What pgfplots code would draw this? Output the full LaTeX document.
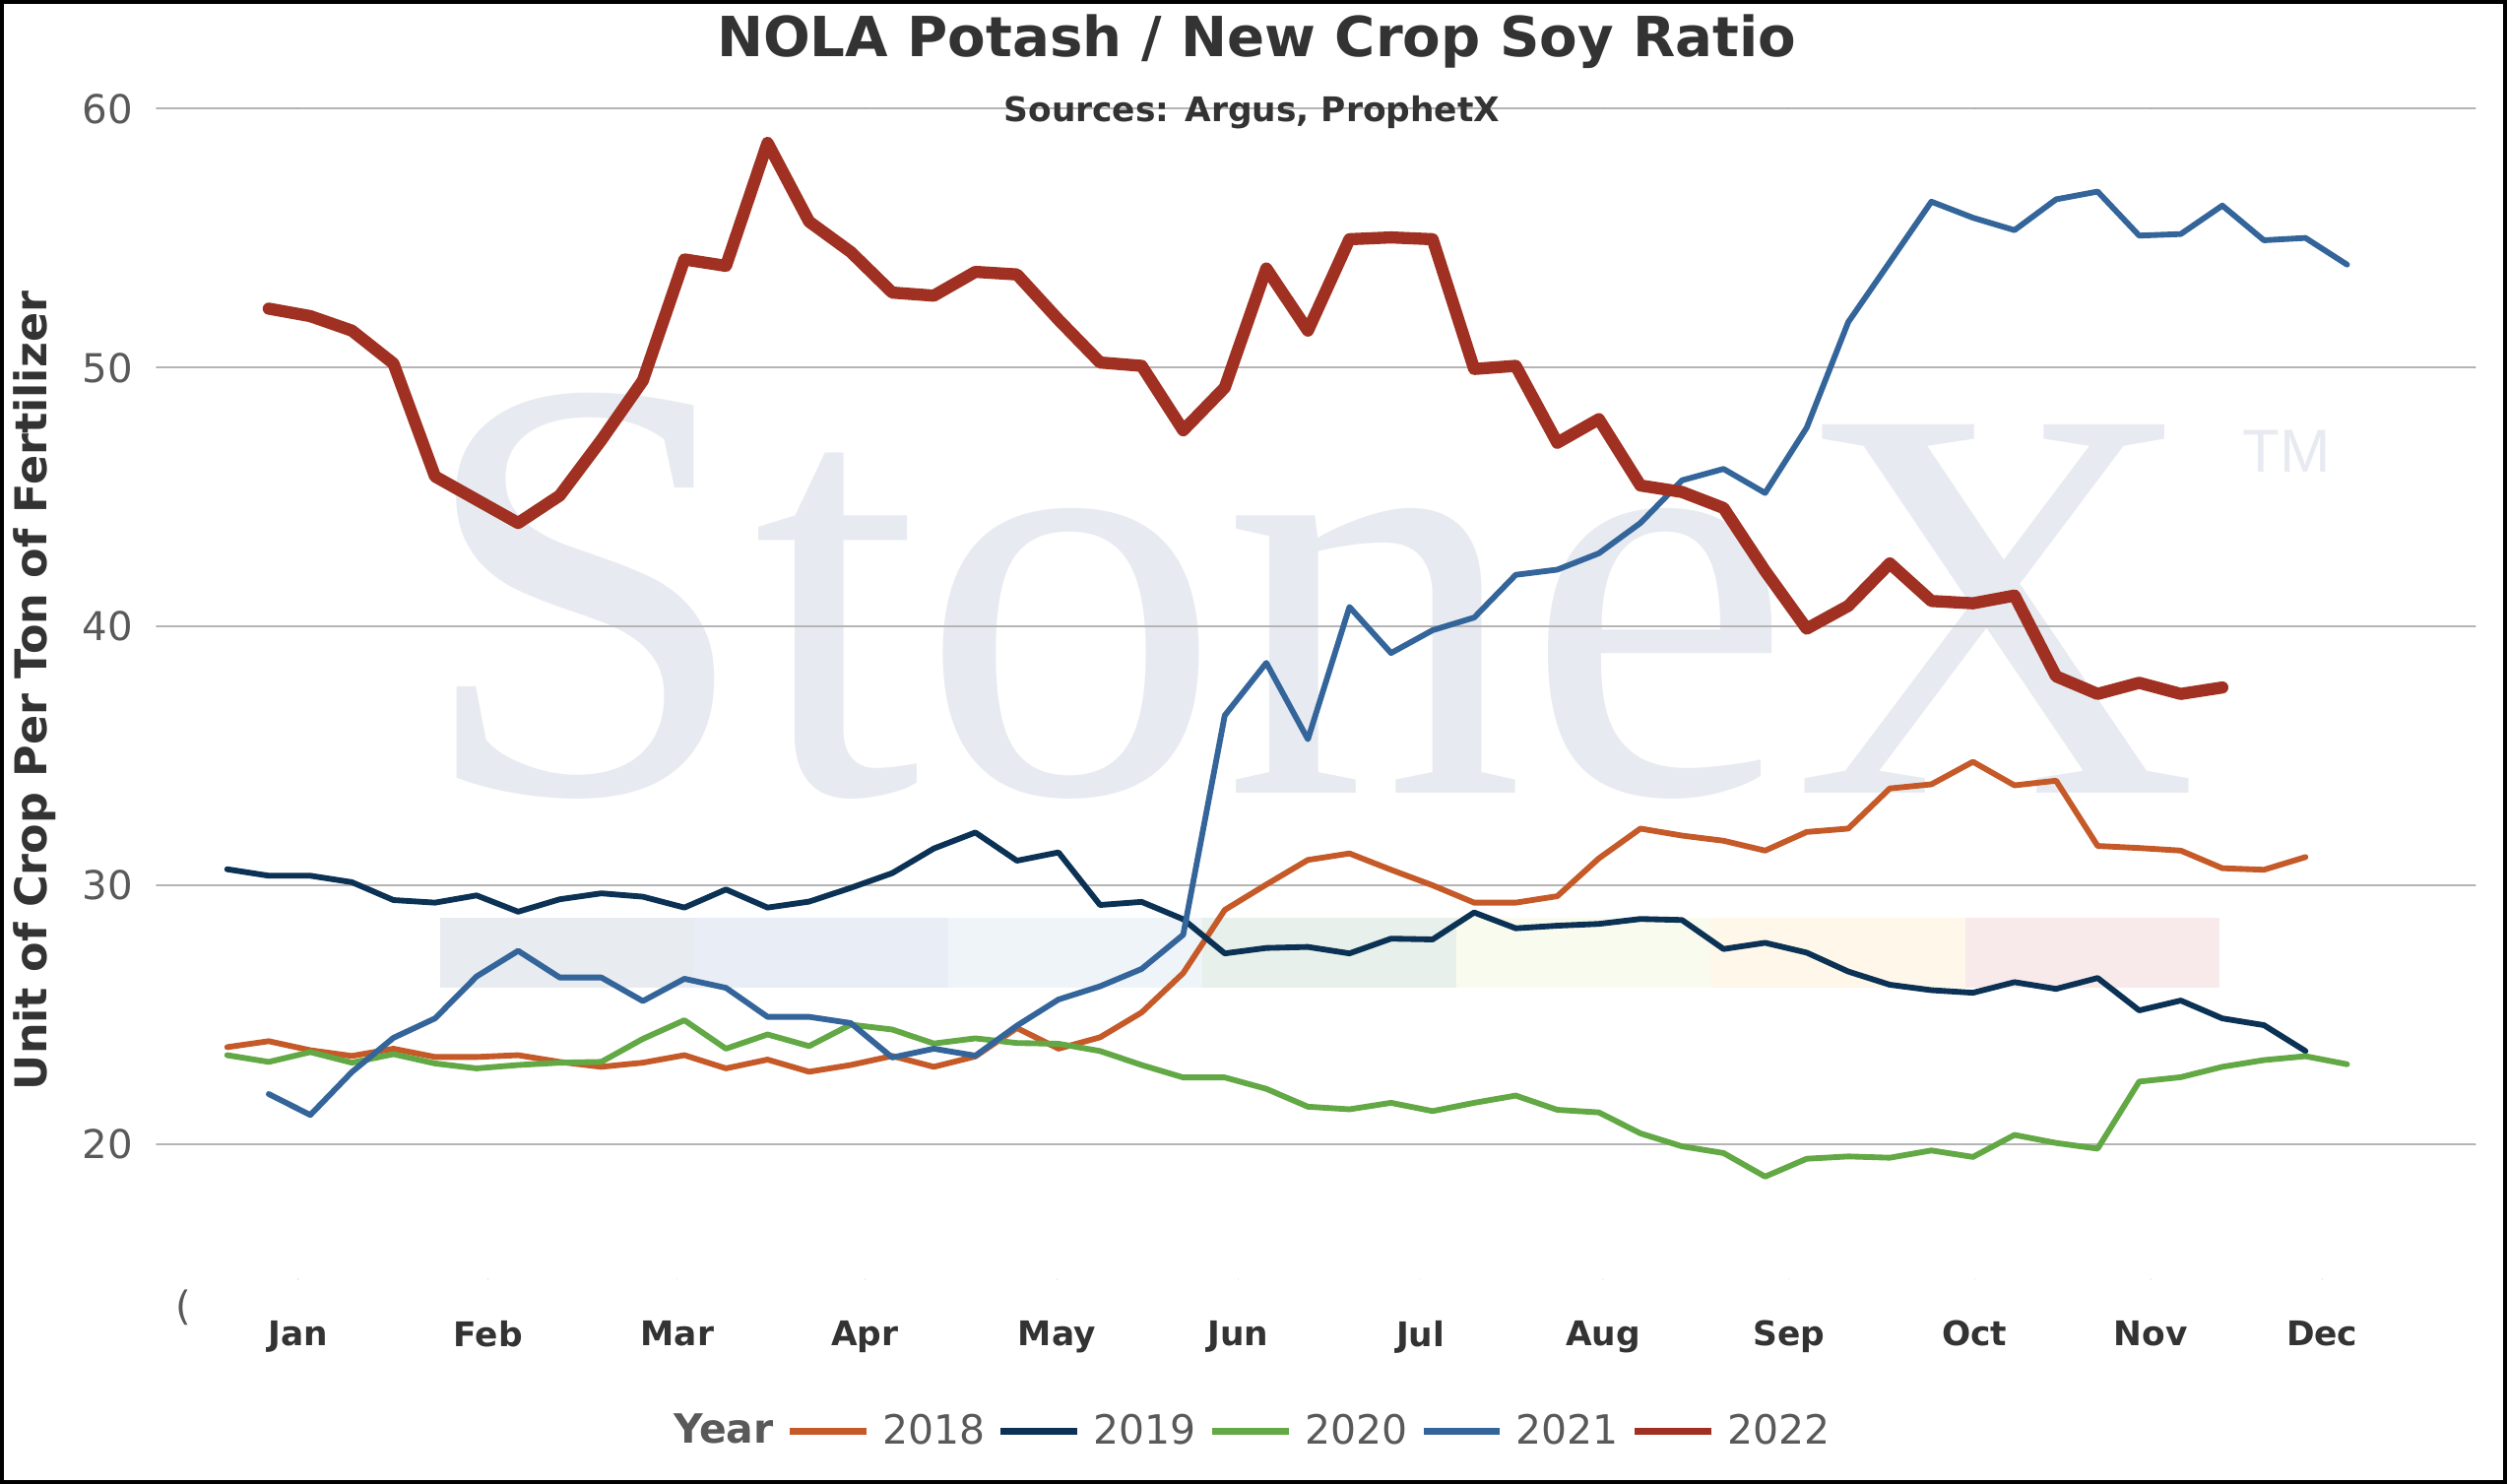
\documentclass[border=0pt]{standalone}
\usepackage{pgfplots}
\pgfplotsset{compat=1.18}
\usepackage{fontspec}
\setmainfont{DejaVu Sans}
\newfontfamily\wmfont{Liberation Serif}
\newfontfamily\tmfont{Liberation Sans}
\definecolor{c2018}{HTML}{C55A28}
\definecolor{c2019}{HTML}{0B3254}
\definecolor{c2020}{HTML}{62A844}
\definecolor{c2021}{HTML}{34659A}
\definecolor{c2022}{HTML}{A03122}
\definecolor{gridc}{HTML}{B5B5B5}
\definecolor{titlec}{HTML}{333333}
\definecolor{graytext}{HTML}{595959}
\definecolor{wmc}{HTML}{E7EBF1}
\definecolor{b1}{HTML}{E8EBF0}
\definecolor{b2}{HTML}{E9EEF6}
\definecolor{b3}{HTML}{EFF4F9}
\definecolor{b4}{HTML}{E7F0EA}
\definecolor{b5}{HTML}{FAFBEF}
\definecolor{b6}{HTML}{FEF7EA}
\definecolor{b7}{HTML}{F8EAEB}
\begin{document}
\begin{tikzpicture}
\useasboundingbox (0,0) rectangle (784pt,464pt);
\fill[white] (0,0) rectangle (784pt,464pt);
% watermark
\fill[b1] (137.5pt,155pt) rectangle (217pt,177pt);
\fill[b2] (217pt,155pt) rectangle (296.5pt,177pt);
\fill[b3] (296.5pt,155pt) rectangle (376pt,177pt);
\fill[b4] (376pt,155pt) rectangle (455.5pt,177pt);
\fill[b5] (455.5pt,155pt) rectangle (535pt,177pt);
\fill[b6] (535pt,155pt) rectangle (614.5pt,177pt);
\fill[b7] (614.5pt,155pt) rectangle (694pt,177pt);
\node[anchor=base west, inner sep=0pt, text=wmc, font=\wmfont\fontsize{189}{189}\selectfont] at (130pt,216pt) {Stone{\fontsize{176}{176}\selectfont X}};
\node[anchor=center, inner sep=0pt, text=wmc, font=\tmfont\fontsize{19}{19}\selectfont] at (715pt,323pt) {TM};
\begin{axis}[
  at={(49pt,64pt)}, anchor=south west,
  width=725pt, height=366pt, scale only axis,
  xmin=-0.696, xmax=55.08, ymin=14.8, ymax=60,
  axis line style={draw=none},
  major tick length=0pt,
  ytick={20,30,40,50,60},
  ymajorgrids, grid style={gridc, line width=0.6pt},
  xtick={2.70,7.28,11.83,16.34,20.96,25.32,29.71,34.1,38.57,43.04,47.28,51.4},
  xticklabels={Jan,Feb,Mar,Apr,May,Jun,Jul,Aug,Sep,Oct,Nov,Dec},
  xticklabel style={font=\bfseries\fontsize{10.6}{12}\selectfont, text=titlec, yshift=-9.5pt},
  yticklabel style={font=\fontsize{12.4}{14}\selectfont, text=graytext, xshift=-4pt},
  /pgf/number format/assume math mode=true,
  legend style={at={(0.471,-0.13)}, anchor=center, draw=none, fill=none,
    legend columns=-1, font=\fontsize{12.6}{14}\selectfont, text=graytext,
    /tikz/every even column/.append style={column sep=2pt},
    /tikz/every odd column/.append style={column sep=2pt}},
  legend image code/.code={\draw[#1, line width=2pt] (0pt,0pt) -- (24pt,0pt);},
  line join=round, line cap=round,
]
\addlegendimage{empty legend}
\addlegendentry{\textbf{Year}}
\addplot[c2018, line width=1.8pt] coordinates {
(1,23.76)(2,23.99)(3,23.64)(4,23.42)(5,23.7)(6,23.38)(7,23.38)(8,23.45)(9,23.19)(10,23.0)
(11,23.16)(12,23.45)(13,22.94)(14,23.28)(15,22.81)(16,23.07)(17,23.42)(18,23.0)(19,23.4)(20,24.5)
(21,23.7)(22,24.14)(23,25.1)(24,26.62)(25,29.06)(26,30.04)(27,30.99)(28,31.24)(29,30.61)(30,30.01)
(31,29.34)(32,29.34)(33,29.59)(34,31.05)(35,32.2)(36,31.93)(37,31.73)(38,31.35)(39,32.07)(40,32.2)
(41,33.75)(42,33.91)(43,34.78)(44,33.87)(45,34.05)(46,31.53)(47,31.45)(48,31.35)(49,30.67)(50,30.61)
(51,31.1)};
\addlegendentry{2018}
\addplot[c2019, line width=1.8pt] coordinates {
(1,30.63)(2,30.38)(3,30.38)(4,30.13)(5,29.44)(6,29.34)(7,29.62)(8,28.99)(9,29.47)(10,29.7)
(11,29.57)(12,29.15)(13,29.85)(14,29.15)(15,29.38)(16,29.91)(17,30.48)(18,31.43)(19,32.05)(20,30.96)
(21,31.28)(22,29.25)(23,29.37)(24,28.7)(25,27.38)(26,27.59)(27,27.63)(28,27.38)(29,27.95)(30,27.92)
(31,28.96)(32,28.35)(33,28.45)(34,28.52)(35,28.71)(36,28.67)(37,27.55)(38,27.79)(39,27.41)(40,26.68)
(41,26.17)(42,25.96)(43,25.86)(44,26.27)(45,26.01)(46,26.43)(47,25.18)(48,25.56)(49,24.87)(50,24.61)
(51,23.61)};
\addlegendentry{2019}
\addplot[c2020, line width=1.8pt] coordinates {
(1,23.45)(2,23.19)(3,23.57)(4,23.16)(5,23.49)(6,23.13)(7,22.94)(8,23.07)(9,23.16)(10,23.19)
(11,24.08)(12,24.8)(13,23.7)(14,24.25)(15,23.8)(16,24.63)(17,24.44)(18,23.9)(19,24.1)(20,23.92)
(21,23.89)(22,23.61)(23,23.07)(24,22.59)(25,22.59)(26,22.15)(27,21.46)(28,21.36)(29,21.61)(30,21.29)
(31,21.61)(32,21.89)(33,21.34)(34,21.24)(35,20.43)(36,19.93)(37,19.67)(38,18.76)(39,19.45)(40,19.54)
(41,19.49)(42,19.77)(43,19.52)(44,20.37)(45,20.06)(46,19.84)(47,22.43)(48,22.6)(49,23.0)(50,23.26)
(51,23.41)(52,23.1)};
\addlegendentry{2020}
\addplot[c2021, line width=1.8pt] coordinates {
(2,21.95)(3,21.14)(4,22.8)(5,24.12)(6,24.87)(7,26.49)(8,27.48)(9,26.45)(10,26.45)
(11,25.54)(12,26.4)(13,26.05)(14,24.93)(15,24.93)(16,24.69)(17,23.36)(18,23.7)(19,23.43)(20,24.59)
(21,25.6)(22,26.11)(23,26.78)(24,28.1)(25,36.57)(26,38.6)(27,35.65)(28,40.76)(29,38.98)(30,39.86)
(31,40.35)(32,42.0)(33,42.2)(34,42.83)(35,44.0)(36,45.65)(37,46.09)(38,45.16)(39,47.68)(40,51.76)
(41,54.08)(42,56.41)(43,55.79)(44,55.31)(45,56.5)(46,56.8)(47,55.1)(48,55.16)(49,56.26)(50,54.92)
(51,55.01)(52,53.98)};
\addlegendentry{2021}
\addplot[c2022, line width=3.8pt] coordinates {
(2,52.28)(3,51.99)(4,51.43)(5,50.16)(6,45.8)(7,44.9)(8,44.0)(9,45.06)(10,47.2)
(11,49.5)(12,54.18)(13,53.93)(14,58.68)(15,55.64)(16,54.47)(17,52.9)(18,52.78)(19,53.7)(20,53.6)
(21,51.85)(22,50.2)(23,50.07)(24,47.58)(25,49.23)(26,53.83)(27,51.43)(28,54.96)(29,55.03)(30,54.96)
(31,49.95)(32,50.07)(33,47.1)(34,48.01)(35,45.45)(36,45.2)(37,44.58)(38,42.15)(39,39.92)(40,40.8)
(41,42.44)(42,40.99)(43,40.9)(44,41.2)(45,38.08)(46,37.4)(47,37.83)(48,37.4)(49,37.65)};
\addlegendentry{2022}
\end{axis}
\node[anchor=center, text=titlec, font=\bfseries\fontsize{17.3}{20}\selectfont] at (393pt,451pt) {NOLA Potash / New Crop Soy Ratio};
\node[anchor=center, text=titlec, font=\bfseries\fontsize{10.6}{12}\selectfont] at (391.5pt,429pt) {Sources: Argus, ProphetX};
\node[anchor=center, rotate=90, text=titlec, font=\bfseries\fontsize{13.7}{16}\selectfont] at (11pt,248pt) {Unit of Crop Per Ton of Fertilizer};
\node[anchor=center, text=graytext, font=\fontsize{12.4}{14}\selectfont] at (57.5pt,55pt) {(};
\draw[black, line width=1.2pt] (0.6pt,0.6pt) rectangle (783.4pt,463.4pt);
\end{tikzpicture}
\end{document}
